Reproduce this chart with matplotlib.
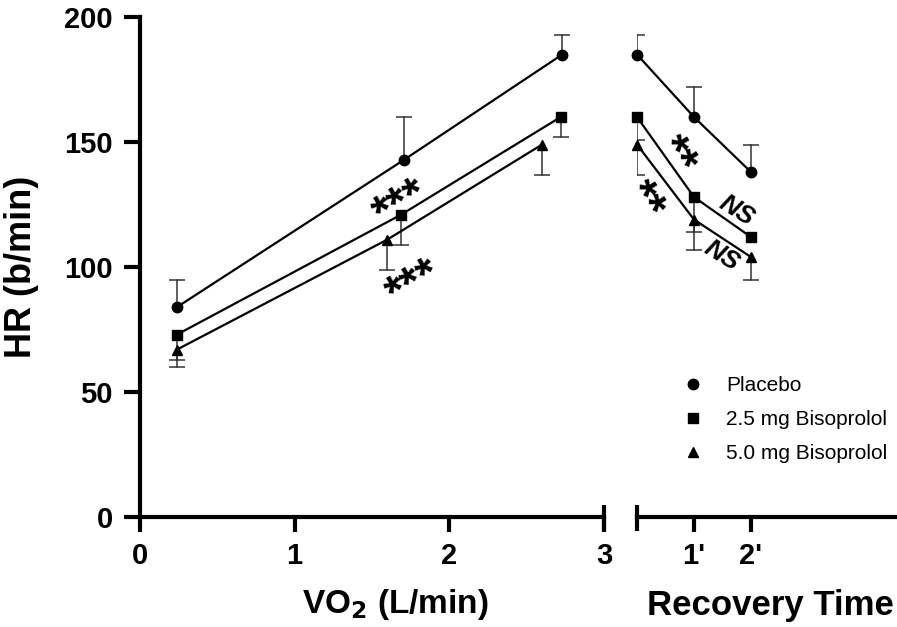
import matplotlib.pyplot as plt
import matplotlib.transforms as mtransforms

plt.rcParams['font.family'] = ['Liberation Sans', 'DejaVu Sans']

groups = ["Placebo", "2.5 mg Bisoprolol", "5.0 mg Bisoprolol"]
markers = ["o", "s", "^"]

# exercise: VO2 (L/min) vs HR
vo2 = [[0.24, 1.71, 2.73], [0.24, 1.69, 2.72], [0.24, 1.60, 2.60]]
hr_ex = [[84, 143, 185], [73, 121, 160], [67, 111, 149]]
err_ex = [[11, 17, 8], [10, 12, 8], [7, 12, 12]]
dir_ex = [1, -1, -1]

# recovery: minutes after peak
rec_t = [0, 1, 2]
hr_rec = [[185, 160, 138], [160, 128, 112], [149, 119, 104]]
err_rec = [[8, 12, 11], [9, 14, 0], [12, 12, 9]]
dir_rec = [1, -1, -1]

fig = plt.figure(figsize=(8.97, 6.27), dpi=100)
ax1 = fig.add_axes([140/897, 1-517/627, 464/897, 500/627])
ax2 = fig.add_axes([637/897, 1-517/627, 258/897, 500/627], sharey=ax1)

def draw(ax, xs, ys, es, ds):
    for i in range(3):
        ax.plot(xs[i], ys[i], color="black", lw=1.6, marker=markers[i],
                ms=7.5 if i == 0 else 7, label=groups[i], clip_on=False, zorder=3)
        for x, y, e in zip(xs[i], ys[i], es[i]):
            if e == 0:
                continue
            end = y + ds[i] * e
            ax.plot([x, x], [y, end], color="#333333", lw=1.1, zorder=2)
            ax.plot([x], [end], marker="_", ms=12, mew=1.1, color="#333333", zorder=2)

draw(ax1, vo2, hr_ex, err_ex, dir_ex)
draw(ax2, [rec_t] * 3, hr_rec, err_rec, dir_rec)

ax1.set_xlim(0, 3)
ax1.set_ylim(0, 200)
ax1.set_xticks([0, 1, 2, 3])
ax1.set_yticks([0, 50, 100, 150, 200])
ax2.set_xlim(0, 4.53)
ax2.set_xticks([1, 2])
ax2.set_xticklabels(["1'", "2'"])

for ax in (ax1, ax2):
    for s in ["top", "right"]:
        ax.spines[s].set_visible(False)
    ax.spines["bottom"].set_linewidth(3)
    ax.spines["left"].set_linewidth(3)
    ax.tick_params(width=3, length=11, labelsize=21, pad=7)
    for lab in ax.get_xticklabels() + ax.get_yticklabels():
        lab.set_fontweight("bold")
ax1.tick_params(axis="y", length=11.5, pad=8)
ax2.spines["left"].set_visible(False)
ax2.tick_params(axis="y", left=False, labelleft=False)

# break caps
for ax, x in ((ax1, 3), (ax2, 0)):
    tr = mtransforms.blended_transform_factory(ax.transData, ax.transAxes)
    ax.plot([x, x], [0.024, -0.028], color="black", lw=3, transform=tr,
            clip_on=False, solid_capstyle="butt")

fig.text(22/897, 1-267/627, "HR (b/min)", fontsize=26, fontweight="bold",
         rotation=90, ha="center", va="center")
fig.text(395/897, 1-605/627, "VO$_\\mathbf{2}$ (L/min)", fontsize=24,
         fontweight="bold", ha="center", va="center")
fig.text(770/897, 1-605/627, "Recovery Time", fontsize=25,
         fontweight="bold", ha="center", va="center")

# significance marks
star = dict(fontsize=34, fontweight="bold", ha="center", va="center")
ax1.text(1.69, 125, "***", rotation=30, **star)
ax1.text(1.77, 93, "***", rotation=30, **star)
ax2.text(0.68, 144.5, "**", rotation=-58, **star)
ax2.text(0.11, 126.5, "**", rotation=-58, **star)
ns = dict(fontsize=19, fontweight="bold", style="italic", rotation=-32,
          ha="center", va="center")
ax2.text(1.75, 122.5, "NS", **ns)
ax2.text(1.49, 104.5, "NS", **ns)

handles, labels = ax2.get_legend_handles_labels()
leg = ax2.legend(handles[:3], labels[:3], loc="upper left",
                 bbox_to_anchor=(672/897, 1-368/627), bbox_transform=fig.transFigure,
                 frameon=False, fontsize=15, handlelength=1.2, handletextpad=1.0,
                 labelspacing=0.72, borderaxespad=0)
for h in leg.legend_handles:
    h.set_linestyle("none")

fig.savefig("out.png", dpi=100)
